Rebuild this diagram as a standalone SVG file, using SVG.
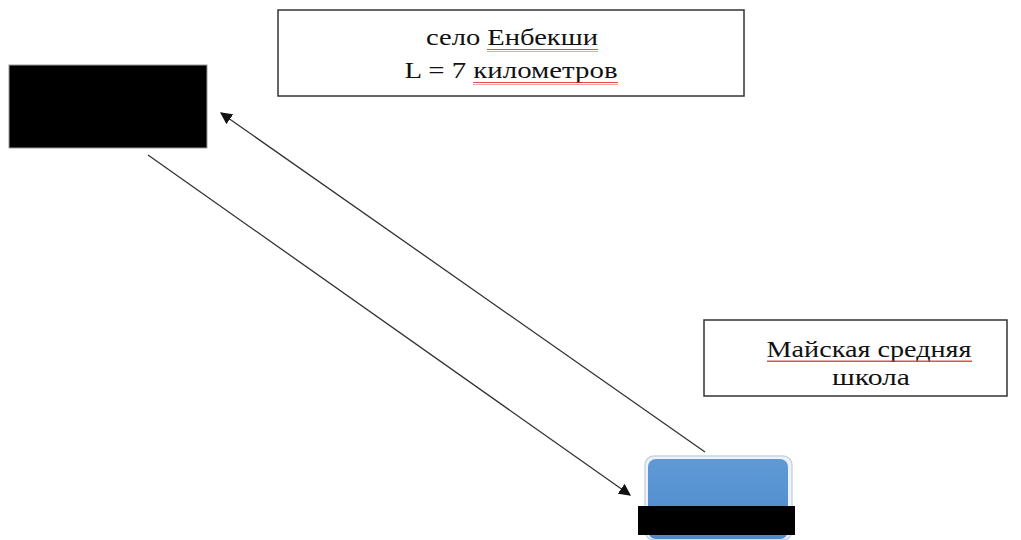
<svg xmlns="http://www.w3.org/2000/svg" width="1021" height="540" viewBox="0 0 1021 540">
<defs>
<style>
.box{fill:#fff;stroke:#333;stroke-width:1.5}
.t{font-family:'Liberation Serif','DejaVu Serif','Times New Roman',serif;font-size:24px;fill:#111;text-anchor:middle}
.conn{stroke:#333;stroke-width:1.3;fill:none}
.wavy{stroke:#e03030;stroke-width:1;fill:none}
</style>
<marker id="ah" viewBox="0 0 10 10" refX="9" refY="5" markerWidth="12" markerHeight="12" markerUnits="userSpaceOnUse" orient="auto">
<path d="M0,0 L10,5 L0,10 z" fill="#111"/>
</marker>
<linearGradient id="bg" x1="0" y1="0" x2="0" y2="1">
<stop offset="0" stop-color="#5f9ad6"/>
<stop offset="1" stop-color="#4d8acb"/>
</linearGradient>
<pattern id="wv" width="4" height="3" patternUnits="userSpaceOnUse">
<path d="M0,2 L1,0.5 L2,2 L3,0.5 L4,2" class="wavy"/>
</pattern>
</defs>
<rect width="1021" height="540" fill="#fff"/>
<g id="connectors">
<line class="conn" x1="705" y1="452" x2="221" y2="113" marker-end="url(#ah)"/>
<line class="conn" x1="148" y1="155" x2="630" y2="495" marker-end="url(#ah)"/>
</g>
<g id="node-black">
<rect x="9" y="65" width="198" height="83" fill="#000" stroke="#999" stroke-width="1"/>
</g>
<g id="node-village">
<rect class="box" x="278" y="10" width="466" height="86"/>
<text class="t" x="512" y="45" textLength="172" lengthAdjust="spacingAndGlyphs">село Енбекши</text>
<text class="t" x="511" y="78" textLength="213" lengthAdjust="spacingAndGlyphs">L = 7 километров</text>
<rect x="487" y="49" width="111" height="3" fill="url(#wv)"/>
<rect x="473" y="82" width="145" height="3" fill="url(#wv)"/>
</g>
<g id="node-school">
<rect class="box" x="704" y="320" width="303" height="76"/>
<text class="t" x="869" y="357" textLength="205" lengthAdjust="spacingAndGlyphs">Майская средняя</text>
<text class="t" x="871" y="385" textLength="78" lengthAdjust="spacingAndGlyphs">школа</text>
<rect x="767" y="360" width="205" height="3" fill="url(#wv)"/>
</g>
<g id="node-blue">
<rect x="645" y="456" width="147" height="84" rx="9" fill="#eef2f8" stroke="#c9d3e0" stroke-width="1.5"/>
<rect x="648" y="459" width="140" height="80" rx="8" fill="url(#bg)"/>
<rect x="638" y="506" width="157" height="29" fill="#000"/>
</g>
</svg>
